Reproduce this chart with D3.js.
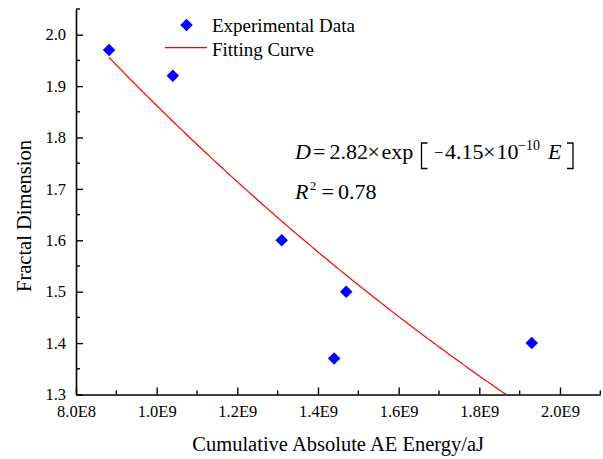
<!DOCTYPE html>
<html>
<head>
<meta charset="utf-8">
<script src="https://cdn.jsdelivr.net/npm/d3@7/dist/d3.min.js"></script>
<style>
  html, body { margin: 0; padding: 0; background: #fff; }
  svg { display: block; }
  svg text { fill: #000; }
</style>
</head>
<body>
<svg id="chart" width="603" height="459"></svg>
<script>
// Cumulative absolute AE energy (aJ) and measured fractal dimension
const energy = [8.82e8, 1.04e9, 1.31e9, 1.44e9, 1.47e9, 1.93e9];
const fractalDim = [1.97, 1.92, 1.60, 1.37, 1.50, 1.40];

// Exponential fit D = a * exp(b * E)
const fitA = 2.82;
const fitB = -4.15e-10;
const fitR2 = 0.78;

// Axis ticks
const xTicks = [8e8, 1.0e9, 1.2e9, 1.4e9, 1.6e9, 1.8e9, 2.0e9];
const xTickLabels = ["8.0E8", "1.0E9", "1.2E9", "1.4E9", "1.6E9", "1.8E9", "2.0E9"];
const xMinorTicks = [9e8, 1.1e9, 1.3e9, 1.5e9, 1.7e9, 1.9e9, 2.1e9];
const yTicks = [1.3, 1.4, 1.5, 1.6, 1.7, 1.8, 1.9, 2.0];
const yMinorTicks = [1.35, 1.45, 1.55, 1.65, 1.75, 1.85, 1.95, 2.05];

// Pick the first installed Times-like serif face
function pickSerif(cands) {
  const ctx = document.createElement("canvas").getContext("2d");
  const probe = "mmmmmmmmmwwwwwlliiIIRRff0123";
  const widthOf = f => { ctx.font = "40px " + f; return ctx.measureText(probe).width; };
  const mono = widthOf("monospace"), sans = widthOf("sans-serif");
  for (const c of cands) {
    if (widthOf(`"${c}", monospace`) !== mono || widthOf(`"${c}", sans-serif`) !== sans) return `"${c}"`;
  }
  return "serif";
}
const serifFace = pickSerif(["Liberation Serif", "Times New Roman", "Tinos", "DejaVu Serif", "Noto Serif"]);

const svg = d3.select("#chart").style("font-family", serifFace + ", serif");
const plotL = 76, plotR = 600.3, plotT = 9, plotB = 394.5;

const x = d3.scaleLinear().domain([8e8, 2.1e9]).range([plotL, plotR]);
const y = d3.scaleLinear().domain([1.3, 2.05]).range([plotB, plotT]);

// clip for the fitted curve
svg.append("clipPath").attr("id", "plotClip")
  .append("rect").attr("x", plotL).attr("y", plotT)
  .attr("width", plotR - plotL).attr("height", plotB - plotT);

// Fitted curve across the measured energy range
const eMin = d3.min(energy), eMax = d3.max(energy);
const curveE = d3.range(0, 201).map(i => eMin + (eMax - eMin) * i / 200);
const line = d3.line().x(d => x(d)).y(d => y(fitA * Math.exp(fitB * d)));
svg.append("path")
  .datum(curveE)
  .attr("clip-path", "url(#plotClip)")
  .attr("d", line)
  .attr("fill", "none")
  .attr("stroke", "#ff0000")
  .attr("stroke-width", 1.2);

// Data markers (diamonds)
const diamond = d3.symbol().type(d3.symbolSquare).size(78);
svg.append("g").selectAll("path")
  .data(energy.map((e, i) => [e, fractalDim[i]]))
  .join("path")
  .attr("d", diamond)
  .attr("transform", d => `translate(${x(d[0])},${y(d[1])}) rotate(45)`)
  .attr("fill", "#0000ff");

// X axis (ticks point inward)
const xAxis = d3.axisBottom(x)
  .tickValues(xTicks)
  .tickFormat((d, i) => xTickLabels[i])
  .tickSizeInner(-7).tickSizeOuter(0).tickPadding(10.5);
const gx = svg.append("g").attr("transform", `translate(0,${plotB})`).call(xAxis);
gx.attr("font-family", null).attr("font-size", null);
gx.select(".domain").attr("stroke-width", 1.6).attr("stroke", "#000");
gx.selectAll(".tick line").attr("stroke-width", 1.4).attr("stroke", "#000");
gx.selectAll(".tick text").attr("font-size", 16.5).attr("fill", "#000");
gx.append("g").selectAll("line").data(xMinorTicks).join("line")
  .attr("x1", d => x(d)).attr("x2", d => x(d)).attr("y1", 0).attr("y2", -4)
  .attr("stroke", "#000").attr("stroke-width", 1.4);

// Y axis
const yAxis = d3.axisLeft(y)
  .tickValues(yTicks)
  .tickFormat(d3.format(".1f"))
  .tickSizeInner(-7).tickSizeOuter(0).tickPadding(10);
const gy = svg.append("g").attr("transform", `translate(${plotL},0)`).call(yAxis);
gy.attr("font-family", null).attr("font-size", null);
gy.select(".domain").attr("stroke-width", 1.6).attr("stroke", "#000");
gy.selectAll(".tick line").attr("stroke-width", 1.4).attr("stroke", "#000");
gy.selectAll(".tick text").attr("font-size", 16.5).attr("fill", "#000");
gy.append("g").selectAll("line").data(yMinorTicks).join("line")
  .attr("y1", d => y(d)).attr("y2", d => y(d)).attr("x1", 0).attr("x2", 4)
  .attr("stroke", "#000").attr("stroke-width", 1.4);

// Axis titles
svg.append("text")
  .attr("x", (plotL + plotR) / 2).attr("y", 451)
  .attr("text-anchor", "middle").attr("font-size", 20.5)
  .text("Cumulative Absolute AE Energy/aJ");
svg.append("text")
  .attr("transform", `translate(31,216) rotate(-90)`)
  .attr("text-anchor", "middle").attr("font-size", 20.5)
  .text("Fractal Dimension");

// Legend
const lg = svg.append("g");
lg.append("path").attr("d", diamond)
  .attr("transform", "translate(186.5,25) rotate(45)").attr("fill", "#0000ff");
lg.append("text").attr("x", 212).attr("y", 31.5).attr("font-size", 19).text("Experimental Data");
lg.append("line").attr("x1", 165).attr("x2", 207).attr("y1", 47.7).attr("y2", 47.7)
  .attr("stroke", "#ff0000").attr("stroke-width", 1.2);
lg.append("text").attr("x", 212).attr("y", 55.5).attr("font-size", 19).text("Fitting Curve");

// Fit equation
const fmt = d3.format(".2f");
const eq = svg.append("g").attr("font-size", 22);
function piece(px, py, str, opts = {}) {
  const t = eq.append("text").attr("x", px).attr("y", py).text(str);
  if (opts.italic) t.attr("font-style", "italic");
  if (opts.size) t.attr("font-size", opts.size);
  return t;
}
function bracket(x0, x1) {
  eq.append("path").attr("d", `M${x1},143 H${x0} V168.5 H${x1}`)
    .attr("fill", "none").attr("stroke", "#000").attr("stroke-width", 1.3);
}
const base = 158.5;
piece(295, base, "D", { italic: true });
piece(313, base, "=");
piece(329.5, base, fmt(fitA));
piece(367.5, base, "×");
piece(381.5, base, "exp");
bracket(421.5, 427.5);
piece(434, base - 1, "−", { size: 16.5 });
piece(445, base, fmt(-fitB * 1e10));
piece(483, base, "×");
piece(496.5, base, "10");
piece(518, base - 9, "−10", { size: 14 });
piece(548, base, "E", { italic: true });
bracket(573, 567);

const base2 = 199;
piece(295, base2, "R", { italic: true });
piece(310, base2 - 9, "2", { size: 12.5 });
piece(321.5, base2, "=");
piece(338, base2, fmt(fitR2));
</script>
</body>
</html>
